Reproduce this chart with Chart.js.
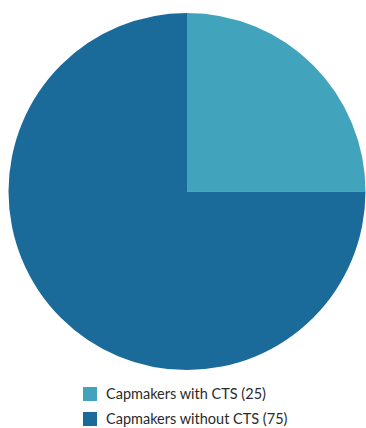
<!DOCTYPE html>
<html>
<head>
<meta charset="utf-8">
<script src="https://cdn.jsdelivr.net/npm/chart.js@4"></script>
<style>
  body { margin: 0; background: #fff; font-family: Lato, "Noto Sans", sans-serif; }
  #wrap { position: relative; width: 366px; height: 373px; }
  #legend { list-style: none; margin: 0; padding: 8px 0 0 83px; }
  #legend li { display: flex; align-items: center; height: 25px; font-size: 14.5px; color: #2a2a2a; }
  #legend .box { width: 14px; height: 14px; margin-right: 9px; }
</style>
</head>
<body>
<div id="wrap"><canvas id="chart"></canvas></div>
<ul id="legend"></ul>
<script>
// categorias y valores
const categorias = ["Capmakers with CTS", "Capmakers without CTS"];
const valores = [25, 75];
const colores = ["#42a4bc", "#1a6a9a"];

const chart = new Chart(document.getElementById("chart"), {
  type: "pie",
  data: {
    labels: categorias,
    datasets: [{
      data: valores,
      backgroundColor: colores,
      borderWidth: 0,
    }],
  },
  options: {
    responsive: true,
    maintainAspectRatio: false,
    animation: false,
    layout: { padding: { top: 13, left: 8, right: 0, bottom: 3 } },
    plugins: {
      legend: { display: false },
      tooltip: { enabled: false },
    },
  },
});

// leyenda en HTML, construida desde los datos del grafico
const legend = document.getElementById("legend");
chart.data.labels.forEach((label, i) => {
  const li = document.createElement("li");
  li.innerHTML = `<span class="box" style="background:${colores[i]}"></span>${label} (${valores[i]})`;
  legend.appendChild(li);
});
</script>
</body>
</html>
